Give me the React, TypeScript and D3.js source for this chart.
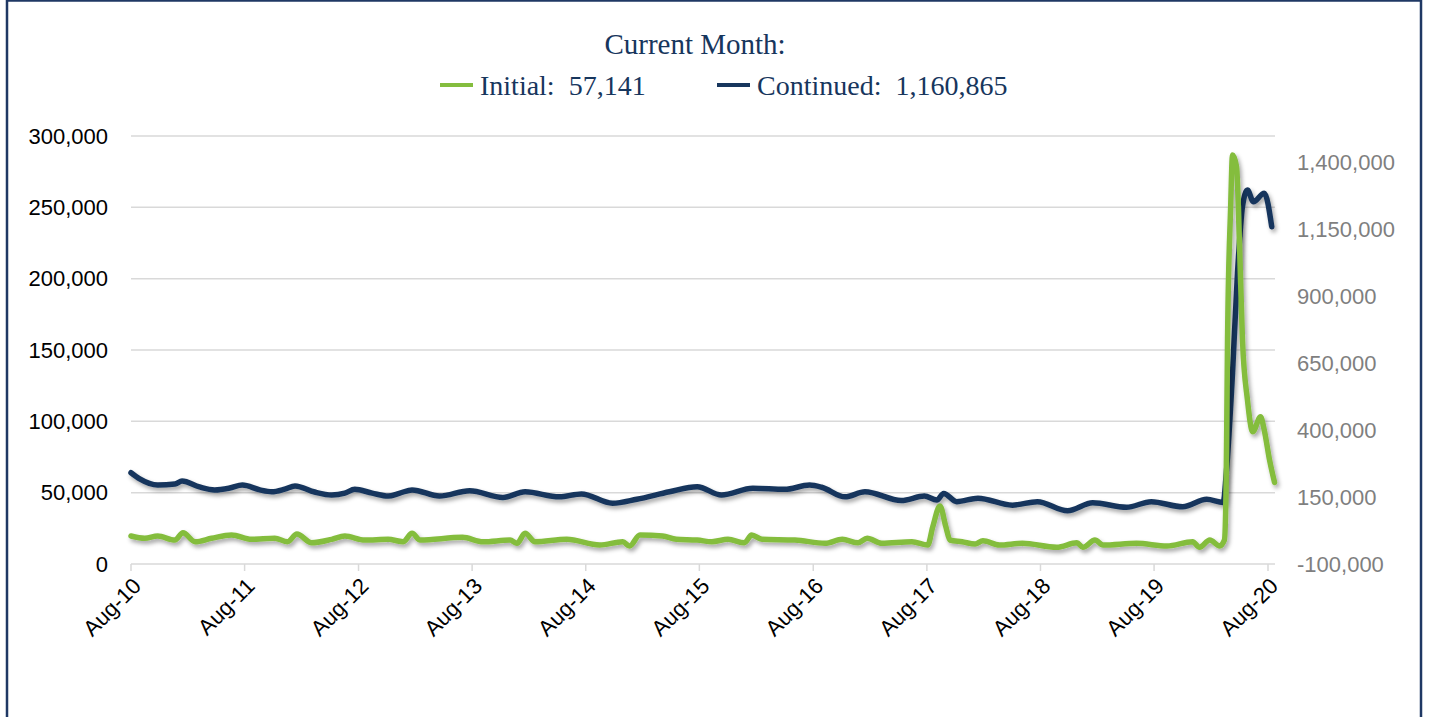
import { useRef, useEffect } from "react";
import * as d3 from "d3";

// Initial claims (left axis)
const initialDates = [
  "2010-08-01","2010-09-14","2010-10-26","2010-12-20","2011-01-15","2011-02-23","2011-04-17","2011-06-20",
  "2011-08-23","2011-11-06","2011-12-17","2012-01-16","2012-03-03","2012-05-07","2012-06-18","2012-08-21",
  "2012-11-04","2012-12-22","2013-01-20","2013-02-15","2013-07-01","2013-09-05","2013-12-01","2013-12-23",
  "2014-01-18","2014-02-19","2014-06-01","2014-09-15","2014-11-28","2014-12-20","2015-01-22","2015-04-05",
  "2015-05-19","2015-07-25","2015-09-10","2015-11-01","2015-12-24","2016-01-16","2016-02-18","2016-06-03",
  "2016-09-08","2016-11-02","2016-12-23","2017-01-21","2017-03-09","2017-06-14","2017-08-04","2017-08-20",
  "2017-09-12","2017-10-01","2017-10-14","2017-11-22","2018-01-03","2018-01-28","2018-03-22","2018-06-04",
  "2018-09-22","2018-11-26","2018-12-15","2019-01-23","2019-02-18","2019-06-06","2019-09-11","2019-12-03",
  "2019-12-25","2020-01-27","2020-02-28","2020-03-14","2020-03-20","2020-03-24","2020-04-03","2020-04-09",
  "2020-04-22","2020-05-01","2020-05-11","2020-05-27","2020-06-13","2020-07-08","2020-07-20","2020-08-06",
  "2020-08-22"
];
const initialValues = [
  19600,18000,19600,16800,21900,15600,18000,20300,
  17300,18000,15600,21000,14900,17300,19600,16800,
  17300,15600,21500,16800,18700,15600,16800,14500,
  21500,15600,17300,13300,15600,12600,20300,19600,
  17300,16800,15600,17300,14900,20300,17300,16800,
  14500,17300,14900,18000,14500,15600,13300,26100,
  40600,26100,16800,15600,14000,16300,13300,14500,
  11700,14900,11700,16800,13300,14500,12600,15600,
  11700,16800,12600,16800,63600,157000,250000,286700,
  278500,227000,157000,115000,92700,103200,93900,72900,
  57141
];

// Continued claims (right axis)
const continuedDates = [
  "2010-08-01","2010-08-29","2010-10-26","2010-12-20","2011-01-12","2011-03-09","2011-04-27","2011-06-14",
  "2011-07-25","2011-09-19","2011-10-27","2011-12-08","2012-01-10","2012-03-13","2012-05-07","2012-06-18",
  "2012-07-20","2012-09-14","2012-11-04","2012-12-12","2013-01-20","2013-04-18","2013-07-24","2013-11-08",
  "2014-01-18","2014-05-08","2014-07-18","2014-10-26","2015-01-12","2015-04-27","2015-07-25","2015-10-11",
  "2016-01-20","2016-05-01","2016-07-20","2016-08-28","2016-11-11","2017-01-14","2017-05-11","2017-07-24",
  "2017-09-02","2017-09-24","2017-11-05","2018-01-12","2018-05-03","2018-07-22","2018-10-27","2019-01-16",
  "2019-05-04","2019-07-23","2019-11-01","2020-01-17","2020-03-10","2020-03-20","2020-04-09","2020-04-25",
  "2020-05-11","2020-05-27","2020-06-15","2020-07-20","2020-08-13"
];
const continuedValues = [
  241000,218000,195000,199000,210000,188000,177000,184000,
  195000,177000,170000,180000,192000,169000,158000,165000,
  179000,165000,154000,165000,177000,154000,174000,149000,
  170000,151000,162000,127000,142000,170000,189000,158000,
  183000,179000,195000,187000,151000,170000,137000,154000,
  139000,164000,133000,146000,120000,133000,99000,129000,
  112000,133000,114000,142000,130000,240000,614000,988000,
  1236000,1298000,1254000,1286000,1160865
];

const leftTicks = [0, 50000, 100000, 150000, 200000, 250000, 300000];
const rightTicks = [-100000, 150000, 400000, 650000, 900000, 1150000, 1400000];
const yearTicks = ["Aug-10","Aug-11","Aug-12","Aug-13","Aug-14","Aug-15","Aug-16","Aug-17","Aug-18","Aug-19","Aug-20"];

const titleText = "Current Month:";
const legendItems = [
  { label: "Initial:  57,141", color: "#84bd3e" },
  { label: "Continued:  1,160,865", color: "#17365d" },
];

// excel style: plain hyphen for negatives
const fmt = (v: number) => d3.format(",")(v).replace("\u2212", "-");

export default function App() {
  const ref = useRef<SVGSVGElement | null>(null);

  useEffect(() => {
    if (!ref.current) return;
    const svg = d3.select(ref.current);
    svg.selectAll("*").remove();

    const W = 1429, H = 717;
    const x0 = 131, x1 = 1268, xEnd = 1275;
    const yTop = 136, yBot = 564;
    const navy = "#17365d";
    const green = "#84bd3e";
    const sans = "'Liberation Sans', Arial, sans-serif";
    const serif = "'Liberation Serif', 'Times New Roman', serif";

    const parse = d3.timeParse("%Y-%m-%d");
    const x = d3.scaleTime()
      .domain([parse("2010-08-01")!, parse("2020-08-01")!])
      .range([x0, x1]);
    const yL = d3.scaleLinear().domain([0, 300000]).range([yBot, yTop]);
    const yR = d3.scaleLinear().domain([-100000, 1500000]).range([yBot, yTop]);

    const defs = svg.append("defs");
    const f = defs.append("filter").attr("id", "shadow")
      .attr("x", "-10%").attr("y", "-10%").attr("width", "120%").attr("height", "130%");
    f.append("feDropShadow").attr("dx", 2).attr("dy", 3).attr("stdDeviation", 2)
      .attr("flood-color", "#000").attr("flood-opacity", 0.35);

    svg.append("rect").attr("width", W).attr("height", H).attr("fill", "#fff");
    // frame
    svg.append("rect").attr("x", 7).attr("y", 0.5).attr("width", 1414).attr("height", H + 20)
      .attr("fill", "none").attr("stroke", "#1f3864").attr("stroke-width", 2.5);

    // gridlines
    svg.append("g").selectAll("line").data(leftTicks).join("line")
      .attr("x1", x0).attr("x2", xEnd)
      .attr("y1", d => yL(d)).attr("y2", d => yL(d))
      .attr("stroke", "#d9d9d9").attr("stroke-width", 1.5);

    // x ticks
    const tickDates = yearTicks.map((_, i) => new Date(2010 + i, 7, 1));
    svg.append("g").selectAll("line").data(tickDates).join("line")
      .attr("x1", d => x(d)).attr("x2", d => x(d))
      .attr("y1", yBot).attr("y2", yBot + 7)
      .attr("stroke", "#d9d9d9").attr("stroke-width", 1.5);

    // left axis labels
    svg.append("g").selectAll("text").data(leftTicks).join("text")
      .attr("x", 108).attr("y", d => yL(d)).attr("dy", "0.35em")
      .attr("text-anchor", "end").attr("font-family", sans).attr("font-size", 22)
      .attr("fill", "#000").text(d => fmt(d));

    // right axis labels
    svg.append("g").selectAll("text").data(rightTicks).join("text")
      .attr("x", 1297).attr("y", d => yR(d)).attr("dy", "0.35em")
      .attr("text-anchor", "start").attr("font-family", sans).attr("font-size", 22)
      .attr("fill", "#7f7f7f").text(d => fmt(d));

    // x labels
    svg.append("g").selectAll("text").data(tickDates).join("text")
      .attr("transform", d => `translate(${x(d) + 6},${yBot + 18}) rotate(-45)`)
      .attr("text-anchor", "end").attr("dy", "0.35em")
      .attr("font-family", sans).attr("font-size", 22).attr("fill", "#000")
      .text((_, i) => yearTicks[i]);

    // lines
    const cont = continuedDates.map((d, i) => ({ t: parse(d)!, v: continuedValues[i] }));
    const init = initialDates.map((d, i) => ({ t: parse(d)!, v: initialValues[i] }));
    const lineR = d3.line<{ t: Date; v: number }>().x(d => x(d.t)).y(d => yR(d.v)).curve(d3.curveMonotoneX);
    const lineL = d3.line<{ t: Date; v: number }>().x(d => x(d.t)).y(d => yL(d.v)).curve(d3.curveMonotoneX);

    svg.append("path").datum(cont).attr("d", lineR as any)
      .attr("fill", "none").attr("stroke", navy).attr("stroke-width", 5.5)
      .attr("stroke-linejoin", "round").attr("stroke-linecap", "round")
      .attr("filter", "url(#shadow)");
    svg.append("path").datum(init).attr("d", lineL as any)
      .attr("fill", "none").attr("stroke", green).attr("stroke-width", 5.5)
      .attr("stroke-linejoin", "round").attr("stroke-linecap", "round")
      .attr("filter", "url(#shadow)");

    // title + legend
    svg.append("text").attr("x", 695).attr("y", 44).attr("dy", "0.35em")
      .attr("text-anchor", "middle").attr("font-family", serif).attr("font-size", 29)
      .attr("fill", navy).text(titleText);

    const legendX = [440, 717];
    const lg = svg.append("g");
    legendItems.forEach((it, i) => {
      lg.append("line").attr("x1", legendX[i]).attr("x2", legendX[i] + 33)
        .attr("y1", 85).attr("y2", 85).attr("stroke", it.color).attr("stroke-width", 4);
      lg.append("text").attr("x", legendX[i] + 40).attr("y", 85).attr("dy", "0.35em")
        .attr("font-family", serif).attr("font-size", 28).attr("fill", navy)
        .attr("xml:space", "preserve").style("white-space", "pre").text(it.label);
    });
  }, []);

  return (
    <svg ref={ref} width={1429} height={717}
      style={{ position: "fixed", left: 0, top: 0, display: "block" }} />
  );
}
